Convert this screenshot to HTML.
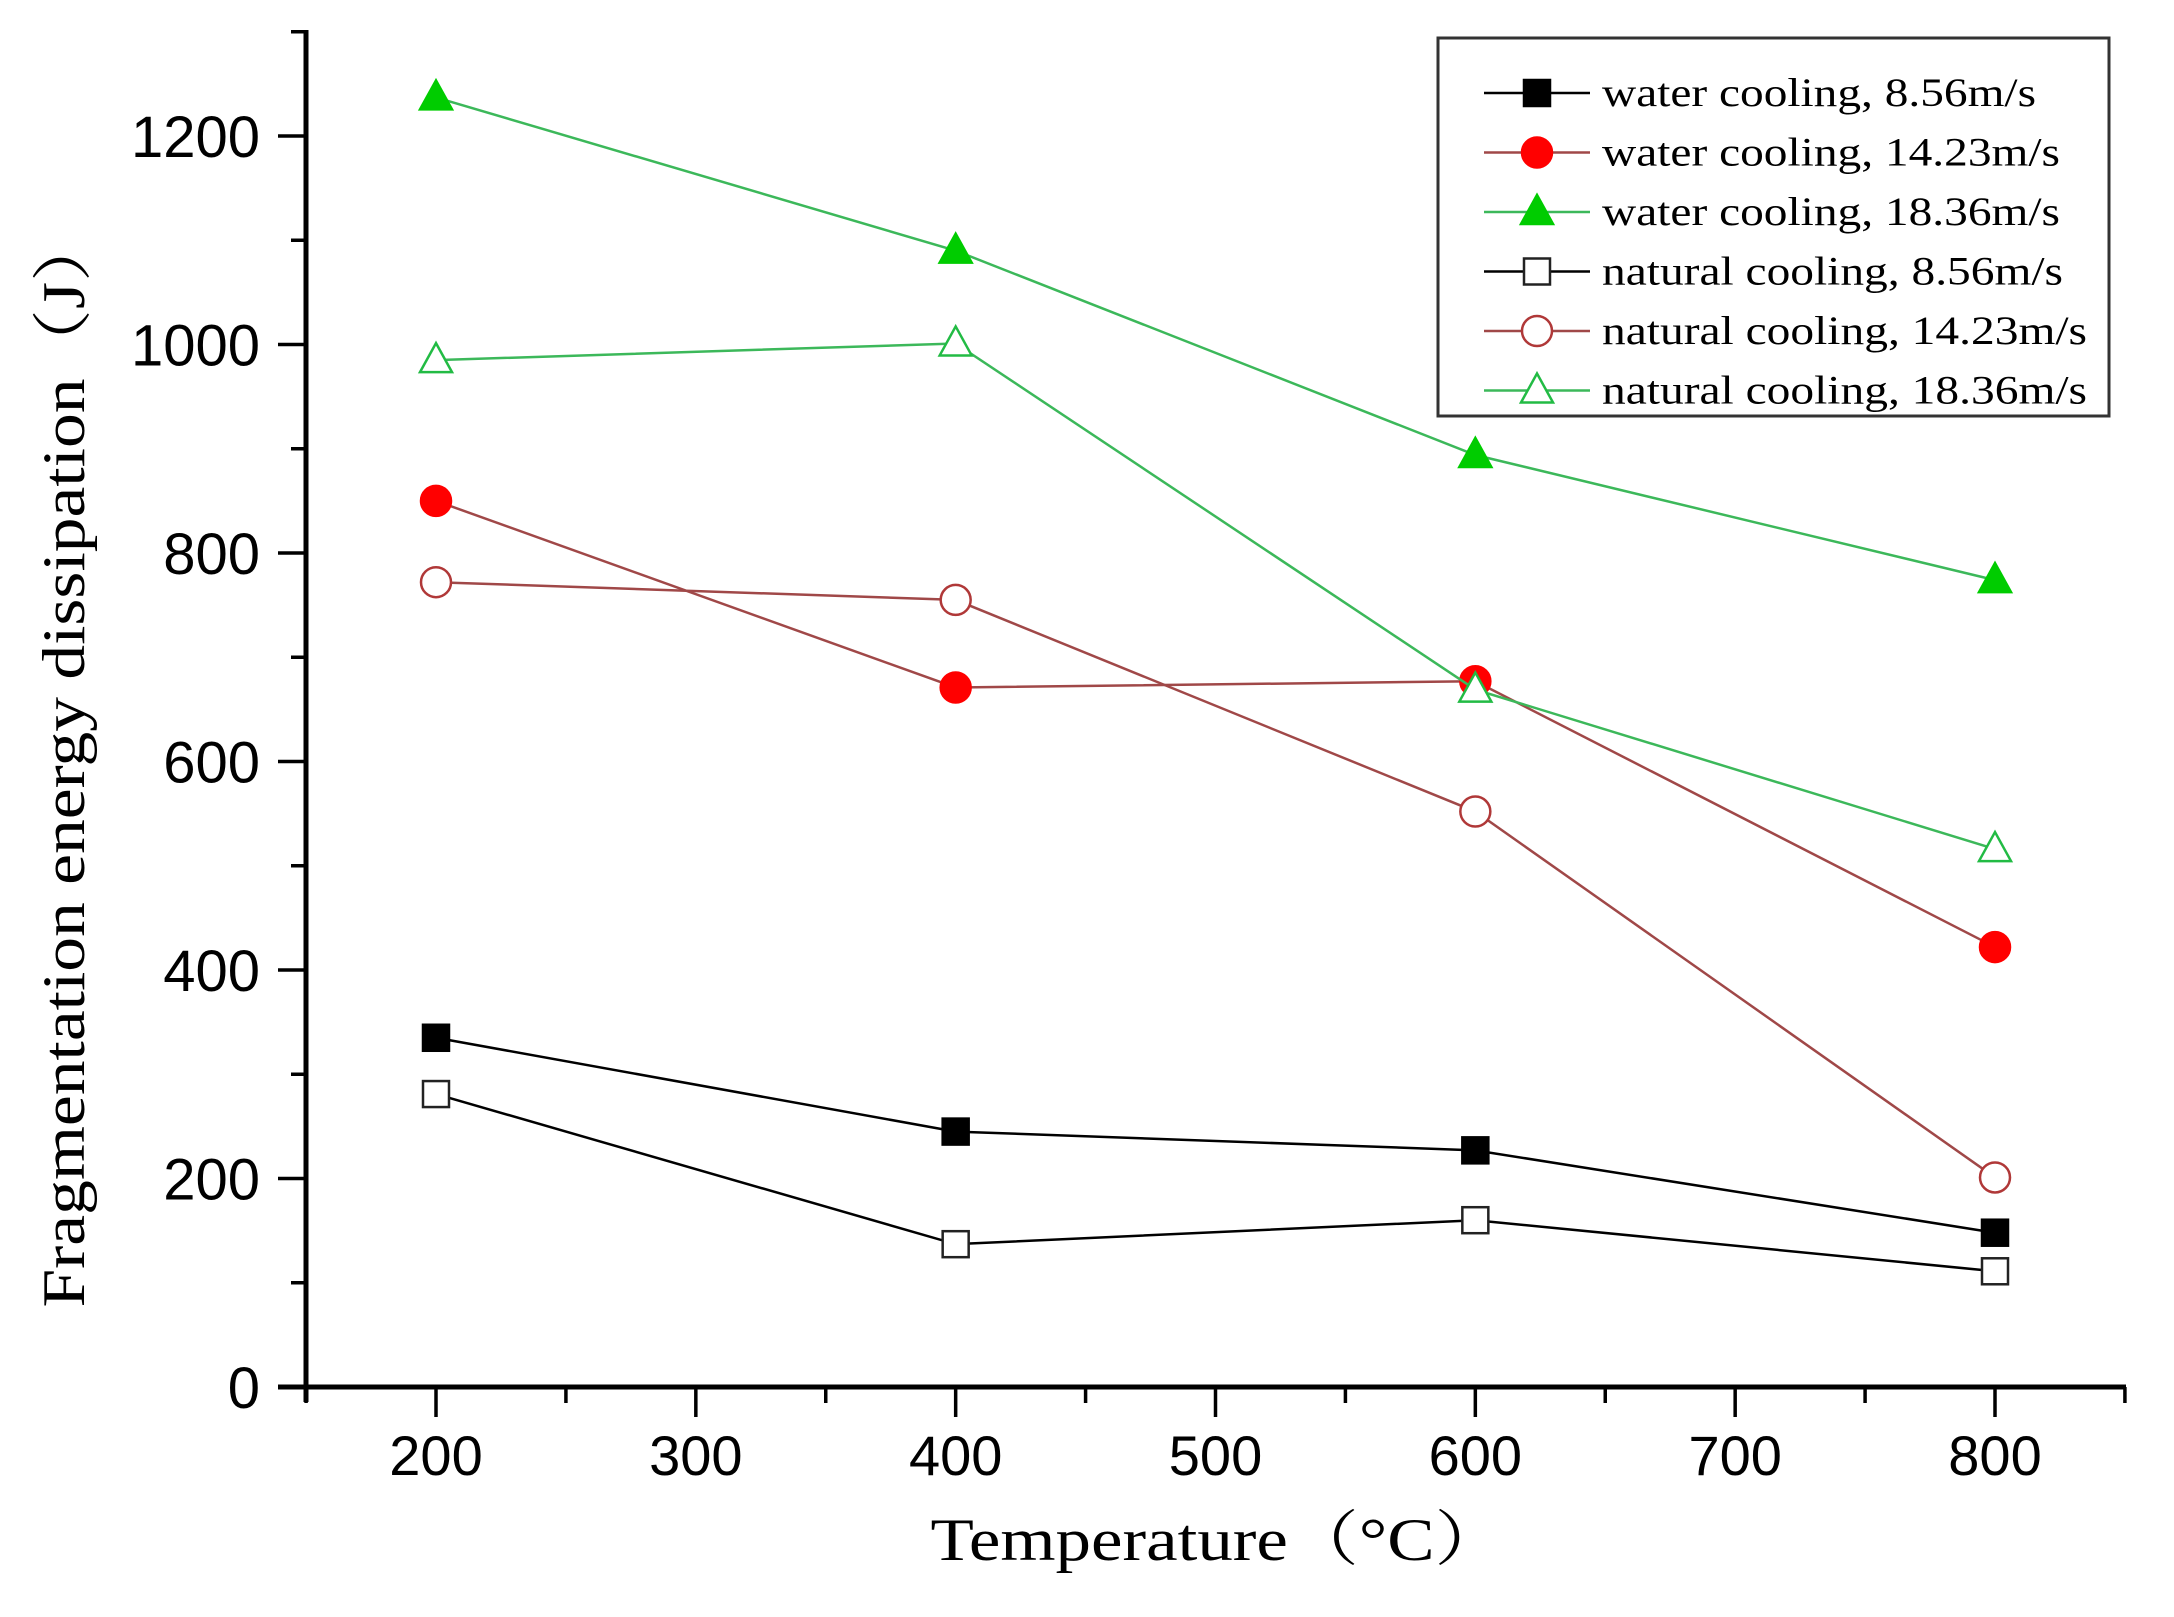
<!DOCTYPE html>
<html><head><meta charset="utf-8"><style>
html,body{margin:0;padding:0;background:#fff;}
svg{display:block;}
</style></head>
<body>
<svg id="chart" width="2174" height="1617" viewBox="0 0 2174 1617" xmlns="http://www.w3.org/2000/svg">
<rect x="0" y="0" width="2174" height="1617" fill="#fff"/>
<g id="axes"></g>
<g id="series"></g>
<g id="legend"></g>
<text transform="translate(84,760) rotate(-90)" text-anchor="middle" font-family="'Liberation Serif','Noto Serif CJK SC',serif" font-size="60" textLength="1095" lengthAdjust="spacingAndGlyphs">Fragmentation energy dissipation（J）</text>
<text x="1218" y="1560" text-anchor="middle" font-family="'Liberation Serif','Noto Serif CJK SC',serif" font-size="60" textLength="575" lengthAdjust="spacingAndGlyphs">Temperature（°C）</text>
</svg>
<script>
const temperatures = [200, 400, 600, 800];
const waterCooling856 = [335, 245, 227, 148];
const waterCooling1423 = [850, 671, 677, 422];
const waterCooling1836 = [1237, 1090, 894, 774];
const naturalCooling856 = [281, 137, 160, 111];
const naturalCooling1423 = [772, 755, 552, 201];
const naturalCooling1836 = [985, 1001, 669, 516];
const xTickLabels = ["200","300","400","500","600","700","800"];
const yTickLabels = ["0","200","400","600","800","1000","1200"];
const legendLabels = ["water cooling, 8.56m/s","water cooling, 14.23m/s","water cooling, 18.36m/s","natural cooling, 8.56m/s","natural cooling, 14.23m/s","natural cooling, 18.36m/s"];

const NS = "http://www.w3.org/2000/svg";
const X0 = 306, X1 = 2126, Y0 = 1387, YTOP = 30;
function xs(v){ return 436 + (v - 200) * (1995 - 436) / 600; }
function ys(v){ return Y0 - v * (Y0 - 136) / 1200; }
function mk(tag, attrs, parent){
  const e = document.createElementNS(NS, tag);
  for (const k in attrs) e.setAttribute(k, attrs[k]);
  parent.appendChild(e);
  return e;
}
const axes = document.getElementById('axes');
const sg = document.getElementById('series');
const lg = document.getElementById('legend');

const xa = mk('line', {x1: 278, y1: Y0, x2: X1, y2: Y0, stroke: '#000', 'stroke-width': 5}, axes);


const ya = mk('line', {x1: X0, y1: YTOP, x2: X0, y2: Y0 + 15, stroke: '#000', 'stroke-width': 5}, axes);



for (let v = 150; v <= 850; v += 50) {
  const major = (v % 100 === 0);
  const t = mk('line', {x1: xs(v), y1: Y0, x2: xs(v), y2: Y0 + (major ? 30 : 16), stroke: '#000', 'stroke-width': 3.5}, axes);
  
  
}
xTickLabels.forEach(function(s){
  const t = mk('text', {x: xs(+s), y: 1475, 'text-anchor': 'middle', 'font-family': "'Liberation Sans',sans-serif", 'font-size': 56}, axes);
  t.textContent = s;
  
  
});
for (let v = 0; v <= 1300; v += 100) {
  const major = (v % 200 === 0);
  const t = mk('line', {x1: X0 - (major ? 28 : 15), y1: ys(v), x2: X0, y2: ys(v), stroke: '#000', 'stroke-width': 3.5}, axes);
  
  
}
yTickLabels.forEach(function(s){
  const t = mk('text', {x: 260, y: ys(+s) + 21, 'text-anchor': 'end', 'font-family': "'Liberation Sans',sans-serif", 'font-size': 58}, axes);
  t.textContent = s;
  
  
});

const seriesDefs = [
  {vals: waterCooling856, line: '#000', col: '#000', shape: 'square', fill: true, name: 'water-cooling-8-56'},
  {vals: naturalCooling856, line: '#000', col: '#222', shape: 'square', fill: false, name: 'natural-cooling-8-56'},
  {vals: waterCooling1423, line: '#a04848', col: '#ff0000', shape: 'circle', fill: true, name: 'water-cooling-14-23'},
  {vals: naturalCooling1423, line: '#a04848', col: '#b03838', shape: 'circle', fill: false, name: 'natural-cooling-14-23'},
  {vals: waterCooling1836, line: '#3cb85a', col: '#00cc00', shape: 'triangle', fill: true, name: 'water-cooling-18-36'},
  {vals: naturalCooling1836, line: '#3cb85a', col: '#22bb44', shape: 'triangle', fill: false, name: 'natural-cooling-18-36'}
];
function marker(parent, shape, cx, cy, col, fill){
  const f = fill ? col : '#fff';
  let e;
  if (shape === 'square') e = mk('rect', {x: cx - 13, y: cy - 13, width: 26, height: 26, fill: f, stroke: col, 'stroke-width': 2.5}, parent);
  else if (shape === 'circle') e = mk('circle', {cx: cx, cy: cy, r: 15, fill: f, stroke: col, 'stroke-width': 2.5}, parent);
  else e = mk('polygon', {points: (cx) + ',' + (cy - 17) + ' ' + (cx - 16) + ',' + (cy + 12) + ' ' + (cx + 16) + ',' + (cy + 12), fill: f, stroke: col, 'stroke-width': 2.5}, parent);
  return e;
}
seriesDefs.forEach(function(s){
  const g = mk('g', {}, sg);
  
  
  const pts = s.vals.map(function(v, i){ return xs(temperatures[i]) + ',' + ys(v); }).join(' ');
  const pl = mk('polyline', {points: pts, fill: 'none', stroke: s.line, 'stroke-width': 2.5}, g);
  
  
  s.vals.forEach(function(v, i){
    const m = marker(g, s.shape, xs(temperatures[i]), ys(v), s.col, s.fill);
    
    
  });
});

const lb = mk('rect', {x: 1438, y: 38, width: 671, height: 378, fill: '#fff', stroke: '#333', 'stroke-width': 3}, lg);


const legendOrder = [0, 2, 4, 1, 3, 5];
const legendWidths = [434, 458, 458, 461, 485, 485];
legendLabels.forEach(function(lab, i){
  const s = seriesDefs[legendOrder[i]];
  const y = 93 + i * 59.5;
  const g = mk('g', {}, lg);
  
  
  mk('line', {x1: 1484, y1: y, x2: 1590, y2: y, stroke: s.line, 'stroke-width': 2.5}, g);
  marker(g, s.shape, 1537, y, s.col, s.fill);
  const t = mk('text', {x: 1602, y: y + 13, 'font-family': "'Liberation Serif',serif", 'font-size': 40, textLength: legendWidths[i], lengthAdjust: 'spacingAndGlyphs'}, g);
  t.textContent = lab;
});
</script>
</body></html>
